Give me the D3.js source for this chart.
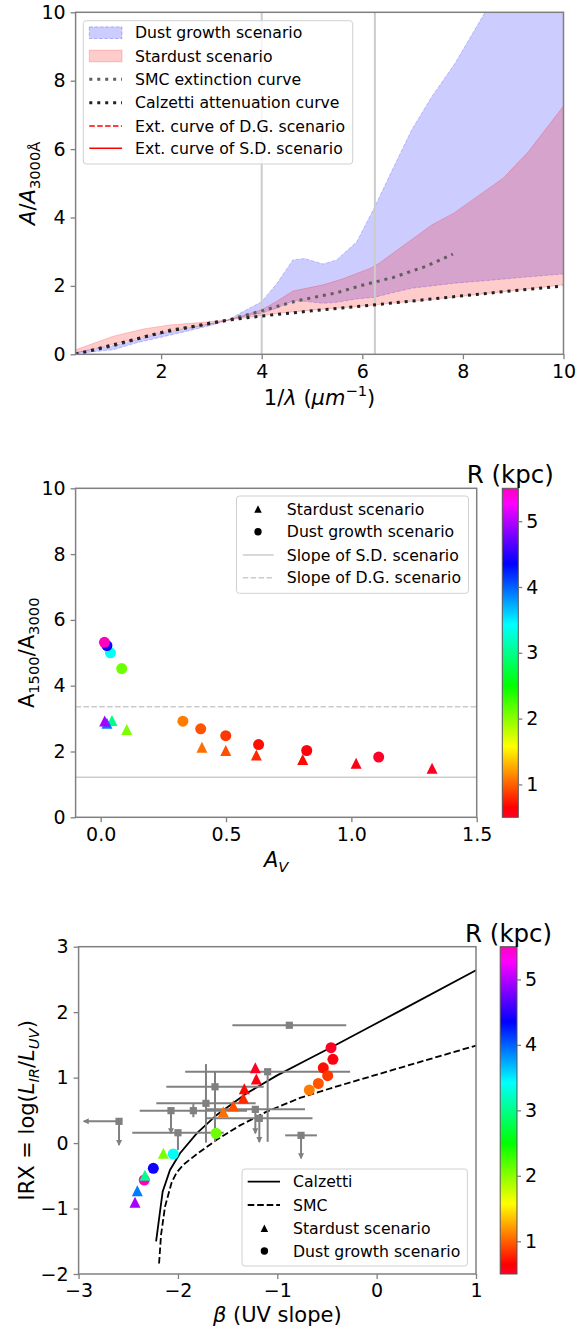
<!DOCTYPE html>
<html>
<head>
<meta charset="utf-8">
<script src="https://cdn.jsdelivr.net/npm/d3@7"></script>
<style>
  body { margin: 0; background: #ffffff; }
  svg text { font-family: "DejaVu Sans", sans-serif; }
</style>
</head>
<body>
<div id="chart"></div>
<script>
// ---------- panel 1 : extinction / attenuation curves ----------
// dust growth scenario band (blue)
var dgWave = [0.3, 1.05, 1.5, 2.0, 2.5, 3.0, 3.33, 3.63, 4.0, 4.3, 4.62, 4.85, 5.22, 5.49, 5.89, 6.25, 6.6, 6.98, 7.38, 7.84, 8.44, 9.2, 10.0];
var dgLow = [0.02, 0.13, 0.33, 0.5, 0.67, 0.85, 1.0, 1.1, 1.2, 1.35, 1.56, 1.55, 1.49, 1.52, 1.62, 1.67, 1.8, 1.93, 2.0, 2.08, 2.15, 2.25, 2.35];
var dgHigh = [0.05, 0.26, 0.42, 0.6, 0.75, 0.9, 1.0, 1.25, 1.54, 2.07, 2.76, 2.8, 2.64, 2.76, 3.29, 4.32, 5.4, 6.56, 7.53, 8.5, 10.0, 11.2, 12.4];
// stardust scenario band (red)
var sdWave = [0.3, 1.05, 1.65, 2.18, 2.71, 3.24, 3.33, 4.0, 4.3, 4.62, 5.22, 5.6, 6.15, 6.35, 7.38, 7.81, 8.8, 9.3, 10.0];
var sdHigh = [0.13, 0.53, 0.74, 0.86, 0.92, 0.99, 1.0, 1.3, 1.55, 1.85, 2.03, 2.2, 2.51, 2.68, 3.78, 4.12, 5.15, 5.92, 7.26];
var sdLow = [0.04, 0.3, 0.5, 0.68, 0.82, 0.96, 1.0, 1.13, 1.19, 1.24, 1.32, 1.36, 1.43, 1.46, 1.6, 1.67, 1.83, 1.91, 2.03];
// SMC extinction curve
var smcWave = [0.3, 1.05, 1.65, 2.18, 2.71, 3.24, 3.33, 4.0, 4.69, 5.49, 5.95, 6.62, 7.28, 7.8];
var smcA = [0.0, 0.25, 0.5, 0.71, 0.82, 0.97, 1.0, 1.27, 1.56, 1.8, 2.0, 2.25, 2.58, 2.93];
// Calzetti attenuation curve
var calWave = [0.3, 1.0, 2.0, 3.0, 3.33, 4.0, 5.0, 6.0, 7.0, 8.0, 9.0, 10.0];
var calA = [0.0, 0.26, 0.63, 0.92, 1.0, 1.12, 1.27, 1.41, 1.56, 1.71, 1.86, 2.0];
// grey guide lines
var guideWave = [4.0, 6.25];
var p1XTicks = [2, 4, 6, 8, 10];
var p1YTicks = [0, 2, 4, 6, 8, 10];

// ---------- panel 2 : A1500/A3000 vs A_V ----------
var dgAv = [0.015, 0.025, 0.039, 0.084, 0.328, 0.399, 0.499, 0.630, 0.822, 1.109];
var dgRatio = [5.32, 5.22, 5.0, 4.52, 2.92, 2.69, 2.48, 2.21, 2.03, 1.83];
var dgR = [5.5, 4.4, 3.4, 2.1, 1.1, 0.95, 0.85, 0.7, 0.6, 0.5];
var sdAv = [0.016, 0.025, 0.045, 0.104, 0.404, 0.499, 0.621, 0.806, 1.019, 1.322];
var sdRatio = [2.93, 2.86, 2.94, 2.67, 2.13, 2.03, 1.89, 1.76, 1.64, 1.49];
var sdR = [4.95, 3.9, 3.0, 2.05, 1.05, 0.94, 0.8, 0.68, 0.58, 0.52];
var slopeSD = 1.22, slopeDG = 3.36;
var p2XTicks = [0.0, 0.5, 1.0, 1.5];
var p2YTicks = [0, 2, 4, 6, 8, 10];

// ---------- panel 3 : IRX - beta ----------
var calBeta = [-2.22, -2.154, -2.08, -1.979, -1.811, -1.61, -1.308, -1.006, -0.704, -0.436, -0.1, 0.235, 1.0];
var calIRX = [-1.5, -0.743, -0.41, -0.155, 0.149, 0.43, 0.76, 1.03, 1.27, 1.48, 1.75, 2.02, 2.64];
var smcBeta = [-2.19, -2.17, -2.13, -2.063, -2.013, -1.946, -1.811, -1.61, -1.375, -1.107, -0.771, -0.436, -0.168, 0.235, 1.0];
var smcIRX = [-1.84, -1.4, -0.97, -0.6, -0.45, -0.33, -0.17, 0.05, 0.27, 0.48, 0.69, 0.85, 0.97, 1.15, 1.49];
var dgBeta = [-0.459, -0.44, -0.537, -0.493, -0.587, -0.678, -1.617, -2.047, -2.248, -2.339];
var dgIRX = [1.457, 1.28, 1.15, 1.03, 0.91, 0.81, 0.149, -0.167, -0.386, -0.564];
var dgR3 = [0.5, 0.6, 0.7, 0.85, 0.95, 1.1, 2.1, 3.4, 4.4, 5.5];
var sdBeta = [-1.221, -1.211, -1.332, -1.342, -1.443, -1.544, -2.147, -2.332, -2.409, -2.432];
var sdIRX = [1.15, 0.98, 0.83, 0.69, 0.57, 0.48, -0.157, -0.49, -0.73, -0.905];
var sdR3 = [0.52, 0.58, 0.68, 0.8, 0.94, 1.05, 2.05, 3.0, 3.9, 4.95];
// observed galaxies (grey squares)
var obsBeta = [-0.879, -1.097, -1.627, -1.718, -1.845, -2.07, -1.221, -1.181, -0.761, -2.0, -2.593];
var obsIRX = [1.80, 1.09, 0.86, 0.607, 0.495, 0.495, 0.515, 0.378, 0.118, 0.158, 0.332];
var obsBetaErr = [0.573, 0.83, 0.49, 0.5, 0.54, 0, 0.5, 0.535, 0.16, 0.46, 0.355];
var obsIRXErrLo = [0, 1.07, 0.84, 0.6, 0.1, 0.345, 0.365, 0.36, 0.35, 0.264, 0.36];
var obsIRXErrHi = [0, 0, 0.23, 0.6, 0.1, 0, 0, 0, 0, 0, 0];
var obsUpLim = [false, false, false, false, false, true, true, true, true, false, true];
var obsBetaLim = [false, false, false, false, false, false, false, false, false, false, true];
var p3XTicks = [-3, -2, -1, 0, 1];
var p3YTicks = [-2, -1, 0, 1, 2, 3];

// colour bar
var rMin = 0.5, rMax = 5.5;
var cbTicks = [1, 2, 3, 4, 5];
// matplotlib gist_rainbow
var rainbowStops = [0.000, 0.030, 0.215, 0.400, 0.586, 0.770, 0.954, 1.000];
var rainbowColors = ["rgb(255,0,41)", "rgb(255,0,0)", "rgb(255,255,0)", "rgb(0,255,0)",
    "rgb(0,255,255)", "rgb(0,0,255)", "rgb(255,0,255)", "rgb(255,0,191)"];

var color = d3.scaleLinear()
    .domain(rainbowStops.map(function (t) { return rMin + t * (rMax - rMin); }))
    .range(rainbowColors)
    .interpolate(d3.interpolateRgb)
    .clamp(true);

var TICK = 19, LABEL = 21, LEG = 15.7, SPINE = "#808080";

var svg = d3.select("#chart").append("svg")
    .attr("width", 584)
    .attr("height", 1328);

//write text made of normal / italic / sub / sup pieces
function richText(sel, parts, size) {
    var shift = 0;
    parts.forEach(function (p) {
        var target = p.sub ? size * 0.24 : (p.sup ? -size * 0.42 : 0);
        var ts = sel.append("tspan").text(p.t).attr("dy", target - shift);
        shift = target;
        if (p.i) ts.style("font-style", "italic");
        if (p.sub || p.sup) ts.style("font-size", (size * 0.7) + "px");
    });
}

//ticks, labels and the four spines
function drawAxes(g, x, y, xTicks, yTicks, xFmt, yFmt) {
    g.append("g")
        .attr("transform", "translate(0," + y.range()[0] + ")")
        .call(d3.axisBottom(x).tickValues(xTicks).tickFormat(xFmt).tickSize(5).tickPadding(5).tickSizeOuter(0))
        .call(styleAxis);
    g.append("g")
        .attr("transform", "translate(" + x.range()[0] + ",0)")
        .call(d3.axisLeft(y).tickValues(yTicks).tickFormat(yFmt).tickSize(5).tickPadding(5).tickSizeOuter(0))
        .call(styleAxis);
    g.append("rect")
        .attr("x", x.range()[0])
        .attr("y", y.range()[1])
        .attr("width", x.range()[1] - x.range()[0])
        .attr("height", y.range()[0] - y.range()[1])
        .attr("fill", "none")
        .attr("stroke", SPINE)
        .attr("stroke-width", 1.5);
}

function styleAxis(a) {
    a.select(".domain").remove();
    a.selectAll(".tick line").attr("stroke", SPINE).attr("stroke-width", 1.3);
    a.selectAll(".tick text")
        .attr("fill", "#000")
        .style("font-size", TICK + "px")
        .style("font-family", "DejaVu Sans");
}

function xLabel(g, x, yPos, parts) {
    var t = g.append("text")
        .attr("x", (x.range()[0] + x.range()[1]) / 2)
        .attr("y", yPos)
        .attr("text-anchor", "middle")
        .style("font-size", LABEL + "px");
    richText(t, parts, LABEL);
}

function yLabel(g, y, xPos, parts) {
    var t = g.append("text")
        .attr("transform", "translate(" + xPos + "," + ((y.range()[0] + y.range()[1]) / 2) + ") rotate(-90)")
        .attr("text-anchor", "middle")
        .style("font-size", LABEL + "px");
    richText(t, parts, LABEL);
}

function legendBox(g, x0, y0, x1, y1) {
    g.append("rect")
        .attr("x", x0).attr("y", y0)
        .attr("width", x1 - x0).attr("height", y1 - y0)
        .attr("rx", 3)
        .attr("fill", "#fff")
        .attr("fill-opacity", 0.8)
        .attr("stroke", "#d0d0d0")
        .attr("stroke-width", 1);
}

function legendText(g, x, y, txt) {
    g.append("text")
        .attr("x", x)
        .attr("y", y + LEG * 0.36)
        .style("font-size", LEG + "px")
        .text(txt);
}

function triPath(cx, cy, s) {
    var h = s / 2;
    return "M" + cx + "," + (cy - h) + "L" + (cx + h) + "," + (cy + h) + "L" + (cx - h) + "," + (cy + h) + "Z";
}

function colourBar(g, x0, x1, y) {
    var id = "cb" + Math.round(x0 * 10 + y.range()[0]);
    var grad = svg.append("defs").append("linearGradient")
        .attr("id", id)
        .attr("x1", 0).attr("y1", 1).attr("x2", 0).attr("y2", 0);
    rainbowStops.forEach(function (t, i) {
        grad.append("stop").attr("offset", t).attr("stop-color", rainbowColors[i]);
    });
    var cb = d3.scaleLinear().domain([rMin, rMax]).range([y.range()[0], y.range()[1]]);
    g.append("rect")
        .attr("x", x0).attr("y", cb.range()[1])
        .attr("width", x1 - x0).attr("height", cb.range()[0] - cb.range()[1])
        .attr("fill", "url(#" + id + ")")
        .attr("stroke", "#555")
        .attr("stroke-width", 1);
    g.append("g")
        .attr("transform", "translate(" + x1 + ",0)")
        .call(d3.axisRight(cb).tickValues(cbTicks).tickFormat(d3.format("d")).tickSize(4).tickPadding(4).tickSizeOuter(0))
        .call(styleAxis);
    g.append("text")
        .attr("x", (x0 + x1) / 2)
        .attr("y", cb.range()[1] - 5)
        .attr("text-anchor", "middle")
        .style("font-size", "24.5px")
        .text("R (kpc)");
}

// ================= panel 1 =================
var g1 = svg.append("g");
var x1 = d3.scaleLinear().domain([0.3, 10]).range([75.6, 563.5]);
var y1 = d3.scaleLinear().domain([0, 10]).range([354.3, 12.3]);

svg.append("defs").append("clipPath").attr("id", "clip1")
    .append("rect")
    .attr("x", 75.6).attr("y", 12.3)
    .attr("width", 563.5 - 75.6).attr("height", 354.3 - 12.3);

var plot1 = g1.append("g").attr("clip-path", "url(#clip1)");

var dgArea = d3.area()
    .x(function (i) { return x1(dgWave[i]); })
    .y0(function (i) { return y1(dgLow[i]); })
    .y1(function (i) { return y1(dgHigh[i]); });
var sdArea = d3.area()
    .x(function (i) { return x1(sdWave[i]); })
    .y0(function (i) { return y1(sdLow[i]); })
    .y1(function (i) { return y1(sdHigh[i]); });

plot1.append("path")
    .datum(d3.range(dgWave.length))
    .attr("d", dgArea)
    .attr("fill", "rgb(0,0,255)")
    .attr("fill-opacity", 0.2)
    .attr("stroke", "rgba(0,0,255,0.2)")
    .attr("stroke-dasharray", "3.7,1.6")
    .attr("stroke-width", 1);

plot1.append("path")
    .datum(d3.range(sdWave.length))
    .attr("d", sdArea)
    .attr("fill", "rgb(255,0,0)")
    .attr("fill-opacity", 0.2)
    .attr("stroke", "rgba(255,0,0,0.2)")
    .attr("stroke-width", 1);

plot1.selectAll(".guide")
    .data(guideWave)
    .enter().append("line")
    .attr("class", "guide")
    .attr("x1", function (d) { return x1(d); })
    .attr("x2", function (d) { return x1(d); })
    .attr("y1", y1(0))
    .attr("y2", y1(10))
    .attr("stroke", "#cccccc")
    .attr("stroke-width", 2);

var dotLine = function (xs, ys) {
    return d3.line()
        .x(function (i) { return x1(xs[i]); })
        .y(function (i) { return y1(ys[i]); });
};

plot1.append("path")
    .datum(d3.range(smcWave.length))
    .attr("d", dotLine(smcWave, smcA))
    .attr("fill", "none")
    .attr("stroke", "#5e5e5e")
    .attr("stroke-width", 3)
    .attr("stroke-dasharray", "3,4.95");

plot1.append("path")
    .datum(d3.range(calWave.length))
    .attr("d", dotLine(calWave, calA))
    .attr("fill", "none")
    .attr("stroke", "#222222")
    .attr("stroke-width", 3)
    .attr("stroke-dasharray", "3,4.95");

drawAxes(g1, x1, y1, p1XTicks, p1YTicks, d3.format("d"), d3.format("d"));
xLabel(g1, x1, 405, [{t: "1/"}, {t: "λ", i: true}, {t: " ("}, {t: "μm", i: true}, {t: "−1", sup: true}, {t: ")"}]);
yLabel(g1, y1, 35, [{t: "A", i: true}, {t: "/"}, {t: "A", i: true}, {t: "3000Å", sub: true}]);

// legend panel 1
var leg1 = g1.append("g");
legendBox(leg1, 83.3, 20.7, 352.7, 164);
var rows1 = [32.7, 56, 79.3, 102.7, 126, 148.3];
leg1.append("rect").attr("x", 89.3).attr("y", rows1[0] - 5.8).attr("width", 32.7).attr("height", 11.6)
    .attr("fill", "rgb(0,0,255)").attr("fill-opacity", 0.2)
    .attr("stroke", "rgba(0,0,255,0.25)").attr("stroke-dasharray", "3.7,1.6");
leg1.append("rect").attr("x", 89.3).attr("y", rows1[1] - 5.8).attr("width", 32.7).attr("height", 11.6)
    .attr("fill", "rgb(255,0,0)").attr("fill-opacity", 0.2)
    .attr("stroke", "rgba(255,0,0,0.2)");
leg1.append("line").attr("x1", 89.3).attr("x2", 122).attr("y1", rows1[2]).attr("y2", rows1[2])
    .attr("stroke", "#5e5e5e").attr("stroke-width", 3).attr("stroke-dasharray", "3,4.95");
leg1.append("line").attr("x1", 89.3).attr("x2", 122).attr("y1", rows1[3]).attr("y2", rows1[3])
    .attr("stroke", "#222").attr("stroke-width", 3).attr("stroke-dasharray", "3,4.95");
leg1.append("line").attr("x1", 89.3).attr("x2", 122).attr("y1", rows1[4]).attr("y2", rows1[4])
    .attr("stroke", "red").attr("stroke-width", 1.5).attr("stroke-dasharray", "5.5,2.4");
leg1.append("line").attr("x1", 89.3).attr("x2", 122).attr("y1", rows1[5]).attr("y2", rows1[5])
    .attr("stroke", "red").attr("stroke-width", 1.5);
["Dust growth scenario", "Stardust scenario", "SMC extinction curve", "Calzetti attenuation curve",
    "Ext. curve of D.G. scenario", "Ext. curve of S.D. scenario"].forEach(function (t, i) {
    legendText(leg1, 135, rows1[i], t);
});

// ================= panel 2 =================
var g2 = svg.append("g");
var x2 = d3.scaleLinear().domain([-0.1, 1.5]).range([75.6, 476.7]);
var y2 = d3.scaleLinear().domain([0, 10]).range([817.3, 488.3]);

g2.append("line")
    .attr("x1", x2(-0.1)).attr("x2", x2(1.5))
    .attr("y1", y2(slopeSD)).attr("y2", y2(slopeSD))
    .attr("stroke", "#cccccc").attr("stroke-width", 1.5);
g2.append("line")
    .attr("x1", x2(-0.1)).attr("x2", x2(1.5))
    .attr("y1", y2(slopeDG)).attr("y2", y2(slopeDG))
    .attr("stroke", "#cccccc").attr("stroke-width", 1.5)
    .attr("stroke-dasharray", "5.5,2.4");

var idx2 = d3.range(dgAv.length).sort(function (a, b) { return dgR[a] - dgR[b]; });
g2.selectAll(".dg")
    .data(idx2)
    .enter().append("circle")
    .attr("class", "dg")
    .attr("cx", function (i) { return x2(dgAv[i]); })
    .attr("cy", function (i) { return y2(dgRatio[i]); })
    .attr("r", 5.5)
    .attr("fill", function (i) { return color(dgR[i]); });

var idx2b = d3.range(sdAv.length).sort(function (a, b) { return sdR[a] - sdR[b]; });
g2.selectAll(".sd")
    .data(idx2b)
    .enter().append("path")
    .attr("class", "sd")
    .attr("d", function (i) { return triPath(x2(sdAv[i]), y2(sdRatio[i]), 11); })
    .attr("fill", function (i) { return color(sdR[i]); });

drawAxes(g2, x2, y2, p2XTicks, p2YTicks, d3.format(".1f"), d3.format("d"));
xLabel(g2, x2, 867, [{t: "A", i: true}, {t: "V", i: true, sub: true}]);
yLabel(g2, y2, 33.5, [{t: "A"}, {t: "1500", sub: true}, {t: "/A"}, {t: "3000", sub: true}]);
colourBar(g2, 502.3, 518.3, y2);

var leg2 = g2.append("g");
legendBox(leg2, 236.5, 496, 468.5, 593.3);
var rows2 = [509, 531.7, 555, 577.7];
leg2.append("path").attr("d", triPath(258, rows2[0], 7.5)).attr("fill", "#000");
leg2.append("circle").attr("cx", 258).attr("cy", rows2[1]).attr("r", 3.7).attr("fill", "#000");
leg2.append("line").attr("x1", 242.8).attr("x2", 273.7).attr("y1", rows2[2]).attr("y2", rows2[2])
    .attr("stroke", "#cccccc").attr("stroke-width", 1.5);
leg2.append("line").attr("x1", 242.8).attr("x2", 273.7).attr("y1", rows2[3]).attr("y2", rows2[3])
    .attr("stroke", "#cccccc").attr("stroke-width", 1.5).attr("stroke-dasharray", "5.5,2.4");
["Stardust scenario", "Dust growth scenario", "Slope of S.D. scenario", "Slope of D.G. scenario"]
    .forEach(function (t, i) { legendText(leg2, 286.8, rows2[i], t); });

// ================= panel 3 =================
var g3 = svg.append("g");
var x3 = d3.scaleLinear().domain([-3, 1]).range([78.6, 476]);
var y3 = d3.scaleLinear().domain([-2, 3]).range([1274, 946.7]);

var line3 = function (xs, ys) {
    return d3.line()
        .x(function (i) { return x3(xs[i]); })
        .y(function (i) { return y3(ys[i]); });
};

g3.append("path")
    .datum(d3.range(calBeta.length))
    .attr("d", line3(calBeta, calIRX))
    .attr("fill", "none").attr("stroke", "#000").attr("stroke-width", 1.8);
g3.append("path")
    .datum(d3.range(smcBeta.length))
    .attr("d", line3(smcBeta, smcIRX))
    .attr("fill", "none").attr("stroke", "#000").attr("stroke-width", 1.8)
    .attr("stroke-dasharray", "6.6,2.9");

// observed error bars
var GREY = "#808080";
var obs = g3.append("g");
d3.range(obsBeta.length).forEach(function (i) {
    var cx = x3(obsBeta[i]), cy = y3(obsIRX[i]);
    if (obsBetaErr[i] > 0) {
        var left = x3(obsBeta[i] - obsBetaErr[i]);
        var right = obsBetaLim[i] ? cx : x3(obsBeta[i] + obsBetaErr[i]);
        obs.append("line").attr("x1", left).attr("x2", right).attr("y1", cy).attr("y2", cy)
            .attr("stroke", GREY).attr("stroke-width", 2);
        if (obsBetaLim[i]) {
            obs.append("path")
                .attr("d", "M" + (left - 1) + "," + cy + "l6,-3l0,6Z")
                .attr("fill", GREY);
        }
    }
    if (obsIRXErrLo[i] > 0 || obsIRXErrHi[i] > 0) {
        var lo = y3(obsIRX[i] - obsIRXErrLo[i]);
        obs.append("line").attr("x1", cx).attr("x2", cx)
            .attr("y1", y3(obsIRX[i] + obsIRXErrHi[i])).attr("y2", lo)
            .attr("stroke", GREY).attr("stroke-width", 2);
        if (obsUpLim[i]) {
            obs.append("path")
                .attr("d", "M" + cx + "," + (lo + 1) + "l-3,-6l6,0Z")
                .attr("fill", GREY);
        }
    }
    obs.append("rect")
        .attr("x", cx - 3.6).attr("y", cy - 3.6)
        .attr("width", 7.2).attr("height", 7.2)
        .attr("fill", GREY);
});

var idx3 = d3.range(dgBeta.length).sort(function (a, b) { return dgR3[a] - dgR3[b]; });
g3.selectAll(".dg3")
    .data(idx3)
    .enter().append("circle")
    .attr("class", "dg3")
    .attr("cx", function (i) { return x3(dgBeta[i]); })
    .attr("cy", function (i) { return y3(dgIRX[i]); })
    .attr("r", 5.5)
    .attr("fill", function (i) { return color(dgR3[i]); });

var idx3b = d3.range(sdBeta.length).sort(function (a, b) { return sdR3[a] - sdR3[b]; });
g3.selectAll(".sd3")
    .data(idx3b)
    .enter().append("path")
    .attr("class", "sd3")
    .attr("d", function (i) { return triPath(x3(sdBeta[i]), y3(sdIRX[i]), 11); })
    .attr("fill", function (i) { return color(sdR3[i]); });

drawAxes(g3, x3, y3, p3XTicks, p3YTicks, d3.format("d"), d3.format("d"));
xLabel(g3, x3, 1322, [{t: "β", i: true}, {t: " (UV slope)"}]);
yLabel(g3, y3, 33.5, [{t: "IRX = log("}, {t: "L", i: true}, {t: "IR", i: true, sub: true}, {t: "/"},
    {t: "L", i: true}, {t: "UV", i: true, sub: true}, {t: ")"}]);
colourBar(g3, 500.2, 517, y3);

var leg3 = g3.append("g");
legendBox(leg3, 242, 1169, 467.4, 1266);
var rows3 = [1181.7, 1205, 1228.3, 1251];
leg3.append("line").attr("x1", 247.7).attr("x2", 280).attr("y1", rows3[0]).attr("y2", rows3[0])
    .attr("stroke", "#000").attr("stroke-width", 1.8);
leg3.append("line").attr("x1", 247.7).attr("x2", 280).attr("y1", rows3[1]).attr("y2", rows3[1])
    .attr("stroke", "#000").attr("stroke-width", 1.8).attr("stroke-dasharray", "6.6,2.9");
leg3.append("path").attr("d", triPath(264.4, rows3[2], 7.5)).attr("fill", "#000");
leg3.append("circle").attr("cx", 264.4).attr("cy", rows3[3]).attr("r", 3.7).attr("fill", "#000");
["Calzetti", "SMC", "Stardust scenario", "Dust growth scenario"]
    .forEach(function (t, i) { legendText(leg3, 293, rows3[i], t); });
</script>
</body>
</html>
